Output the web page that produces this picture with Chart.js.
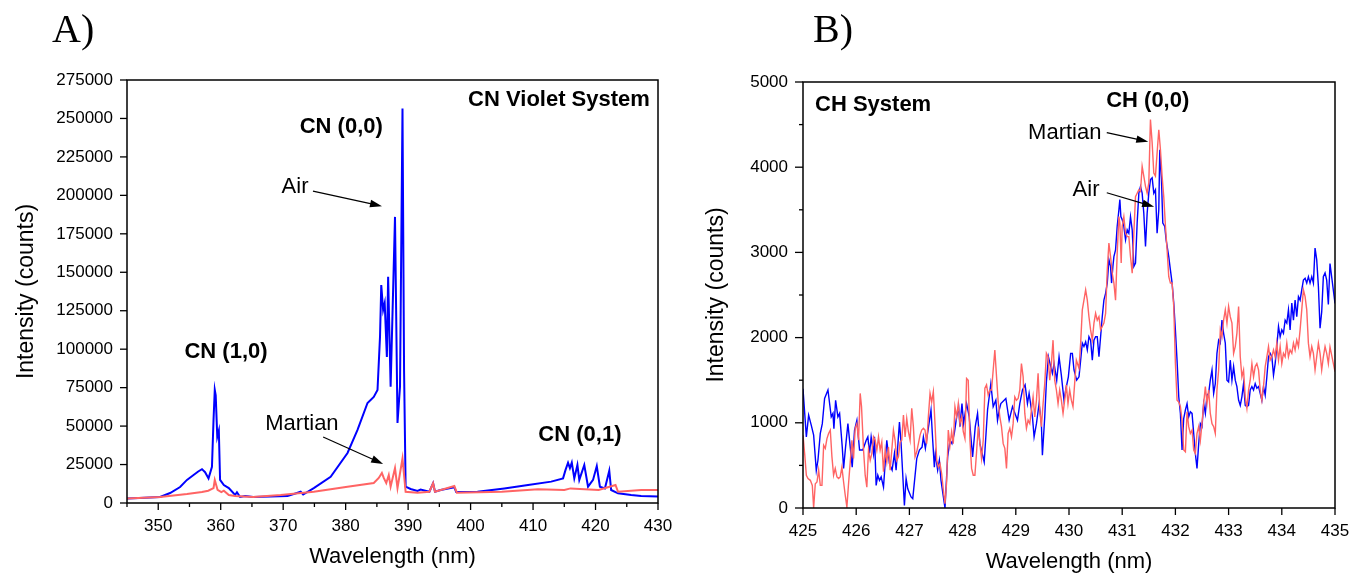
<!DOCTYPE html>
<html>
<head>
<meta charset="utf-8">
<script src="https://cdn.jsdelivr.net/npm/chart.js@4.4.1/dist/chart.umd.min.js"></script>
<style>
  html, body { margin: 0; padding: 0; background: #fff; }
  #wrap { position: relative; width: 1353px; height: 575px; overflow: hidden; }
  canvas { position: absolute; top: 0; }
</style>
</head>
<body>
<div id="wrap">
  <canvas id="chartA" width="680" height="575" style="left:0;width:680px;height:575px"></canvas>
  <canvas id="chartB" width="673" height="575" style="left:680px;width:673px;height:575px"></canvas>
</div>
<script>
// ---- A) CN violet system, 345-430 nm ----
const cnAirWl = [345, 347, 350.3, 351.9, 353.5, 354.6, 355.6, 356.4, 357.0, 357.5,
  358.05, 358.6, 358.85, 359.05, 359.2, 359.45, 359.7, 359.9, 360.5, 361.3,
  362.3, 362.6, 363.1, 363.9, 365.2, 370.7, 372.8, 373.2, 374.9, 377.6,
  380.3, 381.9, 383.5, 384.5, 385.1, 385.5, 385.7, 386.0, 386.25, 386.6,
  386.8, 387.2, 387.9, 388.3, 388.7, 389.1, 389.35, 389.6, 390.4, 391.5,
  392.0, 393.4, 394.0, 394.3, 395.2, 397.4, 397.7, 401.1, 405.4, 409.2,
  412.9, 414.8, 415.2, 415.6, 415.9, 416.2, 416.6, 417.1, 417.4, 418.2,
  418.8, 419.6, 420.2, 420.7, 421.5, 422.2, 422.5, 423.6, 425.7, 427.3, 430];
const cnAir = [3000, 3300, 3900, 6500, 10400, 15000, 18000, 20500, 22000, 20000,
  16000, 23500, 54000, 73500, 70000, 43000, 47000, 15000, 11700, 9700,
  5200, 7000, 3900, 4500, 3900, 4500, 7300, 5500, 9700, 17000,
  32500, 47500, 65000, 69000, 73500, 108000, 141700, 125500, 130000, 95000,
  147000, 75600, 186000, 52000, 75600, 256500, 86500, 10600, 9100, 7900,
  8800, 7300, 12800, 7300, 8450, 10200, 7100, 7300, 9500, 11700,
  13900, 16000, 21500, 26200, 22700, 26200, 16000, 24700, 15000, 24700,
  10600, 15000, 24000, 10600, 9500, 21000, 8450, 6300, 5200, 4600, 4200];

const cnMarsWl = [345, 350.3, 354.6, 357.0, 358.0, 358.85, 359.05, 359.5, 360.1, 360.5,
  361.3, 362.3, 365.2, 369.6, 374.9, 380.3, 384.5, 385.3, 385.8, 386.1,
  386.5, 386.9, 387.2, 387.9, 388.3, 389.1, 389.6, 391.5, 393.4, 394.0,
  394.3, 397.4, 397.8, 405.0, 410.8, 415.0, 416.0, 420.5, 423.2, 423.6, 427.3, 430];
const cnMars = [3000, 3900, 5800, 7100, 8000, 9700, 15000, 8500, 7100, 8000,
  5200, 4500, 3900, 5200, 7300, 10600, 13000, 16300, 19500, 16300,
  13000, 18200, 10600, 22700, 9700, 29000, 7300, 6700, 7300, 12800,
  7300, 11000, 6700, 7300, 8900, 8450, 9500, 8450, 11700, 7300, 8450, 8500];

const cnTicksY = [0, 25000, 50000, 75000, 100000, 125000, 150000, 175000, 200000, 225000, 250000, 275000];

// ---- B) CH system, 425-435 nm ----
const chAirWl = [
  425.000, 425.063, 425.106, 425.156, 425.200, 425.250, 425.281, 425.325, 425.363, 425.406,
  425.469, 425.531, 425.563, 425.581, 425.613, 425.656, 425.688, 425.738, 425.763, 425.800,
  425.844, 425.888, 425.925, 425.969, 426.013, 426.063, 426.125, 426.188, 426.219, 426.250,
  426.281, 426.325, 426.344, 426.375, 426.406, 426.438, 426.469, 426.513, 426.575, 426.625,
  426.675, 426.719, 426.750, 426.813, 426.844, 426.906, 426.938, 426.969, 427.031, 427.063,
  427.138, 427.188, 427.238, 427.263, 427.300, 427.406, 427.438, 427.469, 427.488, 427.531,
  427.563, 427.594, 427.669, 427.719, 427.763, 427.800, 427.844, 427.888, 427.925, 427.950,
  427.988, 428.019, 428.075, 428.125, 428.156, 428.188, 428.238, 428.281, 428.325, 428.406,
  428.469, 428.531, 428.575, 428.625, 428.656, 428.688, 428.719, 428.813, 428.875, 428.938,
  429.031, 429.075, 429.125, 429.175, 429.219, 429.250, 429.313, 429.344, 429.388, 429.438,
  429.481, 429.500, 429.544, 429.575, 429.613, 429.656, 429.688, 429.719, 429.769, 429.813,
  429.856, 429.906, 429.938, 429.988, 430.031, 430.063, 430.094, 430.144, 430.188, 430.219,
  430.250, 430.281, 430.313, 430.344, 430.375, 430.406, 430.438, 430.469, 430.500, 430.531,
  430.563, 430.594, 430.625, 430.656, 430.688, 430.719, 430.750, 430.781, 430.800, 430.825,
  430.844, 430.875, 430.906, 430.938, 430.956, 430.975, 431.000, 431.031, 431.063, 431.094,
  431.125, 431.156, 431.188, 431.219, 431.250, 431.281, 431.313, 431.344, 431.375, 431.406,
  431.438, 431.469, 431.500, 431.531, 431.563, 431.594, 431.625, 431.656, 431.688, 431.706,
  431.738, 431.763, 431.800, 431.825, 431.875, 431.906, 431.938, 431.969, 432.000, 432.031,
  432.063, 432.094, 432.125, 432.156, 432.188, 432.219, 432.250, 432.281, 432.313, 432.344,
  432.375, 432.406, 432.438, 432.469, 432.500, 432.531, 432.563, 432.594, 432.625, 432.656,
  432.688, 432.719, 432.750, 432.781, 432.813, 432.844, 432.875, 432.906, 432.938, 432.969,
  433.000, 433.031, 433.063, 433.094, 433.125, 433.156, 433.188, 433.219, 433.250, 433.281,
  433.313, 433.344, 433.375, 433.406, 433.438, 433.469, 433.500, 433.531, 433.563, 433.594,
  433.625, 433.656, 433.688, 433.719, 433.750, 433.781, 433.813, 433.844, 433.875, 433.906,
  433.938, 433.969, 434.000, 434.031, 434.063, 434.094, 434.125, 434.156, 434.188, 434.219,
  434.250, 434.281, 434.313, 434.344, 434.375, 434.406, 434.438, 434.469, 434.500, 434.531,
  434.563, 434.594, 434.625, 434.656, 434.688, 434.719, 434.750, 434.781, 434.813, 434.844,
  434.875, 434.906, 435.000];
const chAir = [
  1400, 835, 1090, 970, 855, 440, 560, 875, 990, 1285,
  1385, 1070, 1110, 930, 1265, 1070, 1110, 715, 465, 715,
  990, 715, 480, 915, 1030, 680, 680, 795, 835, 640,
  835, 640, 835, 265, 385, 325, 365, 245, 795, 520,
  445, 640, 445, 1010, 755, 30, 345, 225, 130, 110,
  580, 680, 715, 835, 700, 1150, 795, 480, 640, 445,
  560, 325, 0, 600, 795, 755, 875, 1070, 1190, 955,
  1225, 990, 1225, 1070, 835, 600, 955, 1110, 755, 540,
  1150, 1460, 1190, 1265, 1030, 1150, 1225, 1285, 1030, 1190,
  1030, 1225, 1385, 1445, 1225, 1345, 1070, 835, 990, 1225,
  990, 620, 1070, 1480, 1775, 1660, 1580, 1695, 1500, 1775,
  1560, 1265, 1385, 1540, 1815, 1815, 1620, 1500, 1540, 1735,
  1935, 1895, 1950, 1855, 2010, 1970, 1735, 1970, 2010, 2010,
  1775, 2010, 2245, 2440, 2520, 2640, 2915, 2835, 2640, 2835,
  2950, 3030, 3305, 3500, 3620, 3420, 3385, 3305, 3150, 3265,
  3225, 3420, 3265, 2835, 2875, 3345, 3695, 3775, 3695, 3460,
  3070, 3460, 3695, 3855, 3875, 3695, 3735, 3225, 3500, 4205,
  3855, 3345, 3305, 3150, 2950, 2795, 2640, 2405, 2090, 1735,
  1305, 1110, 680, 1050, 1150, 1225, 1070, 1130, 1110, 875,
  640, 465, 755, 990, 955, 1225, 1110, 1325, 1345, 1500,
  1620, 1345, 1460, 1815, 1970, 1935, 2205, 2050, 1935, 1500,
  1480, 1735, 1500, 1660, 1500, 1425, 1265, 1205, 1305, 1460,
  1205, 1190, 1205, 1385, 1425, 1385, 1460, 1405, 1425, 1345,
  1265, 1425, 1325, 1540, 1775, 1815, 1775, 1560, 1695, 1895,
  2130, 2010, 2090, 2050, 2205, 2170, 2325, 2090, 2405, 2205,
  2440, 2245, 2480, 2440, 2560, 2675, 2695, 2640, 2715, 2640,
  2715, 2640, 3050, 2915, 2600, 2110, 2300, 2715, 2760, 2675,
  2390, 2870, 2400];

const chMarsWl = [
  425.000, 425.031, 425.063, 425.094, 425.138, 425.175, 425.200, 425.231, 425.263, 425.294,
  425.325, 425.356, 425.388, 425.419, 425.450, 425.481, 425.513, 425.544, 425.575, 425.606,
  425.638, 425.669, 425.700, 425.731, 425.763, 425.794, 425.825, 425.856, 425.888, 425.919,
  425.950, 425.981, 426.013, 426.044, 426.075, 426.100, 426.138, 426.169, 426.200, 426.231,
  426.263, 426.294, 426.325, 426.356, 426.388, 426.419, 426.450, 426.481, 426.513, 426.544,
  426.575, 426.606, 426.638, 426.669, 426.700, 426.731, 426.763, 426.794, 426.825, 426.856,
  426.888, 426.919, 426.950, 426.981, 427.013, 427.044, 427.075, 427.106, 427.138, 427.169,
  427.200, 427.231, 427.263, 427.294, 427.325, 427.356, 427.388, 427.419, 427.450, 427.481,
  427.513, 427.544, 427.575, 427.606, 427.638, 427.669, 427.700, 427.731, 427.763, 427.794,
  427.825, 427.856, 427.888, 427.919, 427.950, 427.981, 428.013, 428.044, 428.075, 428.106,
  428.138, 428.169, 428.200, 428.231, 428.263, 428.294, 428.325, 428.356, 428.388, 428.419,
  428.450, 428.481, 428.513, 428.544, 428.575, 428.606, 428.638, 428.669, 428.700, 428.731,
  428.763, 428.794, 428.825, 428.856, 428.888, 428.919, 428.950, 428.981, 429.013, 429.044,
  429.075, 429.106, 429.138, 429.169, 429.200, 429.231, 429.263, 429.294, 429.325, 429.356,
  429.388, 429.419, 429.450, 429.481, 429.513, 429.544, 429.575, 429.606, 429.638, 429.669,
  429.700, 429.731, 429.763, 429.794, 429.825, 429.856, 429.888, 429.919, 429.950, 429.981,
  430.013, 430.044, 430.075, 430.106, 430.138, 430.188, 430.219, 430.250, 430.281, 430.313,
  430.344, 430.375, 430.406, 430.438, 430.469, 430.500, 430.531, 430.563, 430.594, 430.625,
  430.656, 430.688, 430.719, 430.750, 430.781, 430.813, 430.844, 430.875, 430.906, 430.938,
  430.956, 430.981, 431.000, 431.031, 431.063, 431.094, 431.125, 431.156, 431.188, 431.219,
  431.250, 431.281, 431.313, 431.344, 431.375, 431.406, 431.438, 431.469, 431.500, 431.531,
  431.563, 431.594, 431.625, 431.656, 431.688, 431.719, 431.750, 431.781, 431.813, 431.844,
  431.875, 431.906, 431.938, 431.969, 432.000, 432.031, 432.063, 432.094, 432.125, 432.156,
  432.188, 432.219, 432.250, 432.281, 432.313, 432.344, 432.375, 432.406, 432.438, 432.469,
  432.500, 432.531, 432.563, 432.594, 432.625, 432.656, 432.688, 432.719, 432.750, 432.781,
  432.813, 432.844, 432.875, 432.906, 432.938, 432.969, 433.000, 433.031, 433.063, 433.094,
  433.125, 433.156, 433.188, 433.219, 433.250, 433.281, 433.313, 433.344, 433.375, 433.406,
  433.438, 433.469, 433.500, 433.531, 433.563, 433.594, 433.625, 433.656, 433.688, 433.719,
  433.750, 433.781, 433.813, 433.844, 433.875, 433.906, 433.938, 433.969, 434.000, 434.031,
  434.063, 434.094, 434.125, 434.156, 434.188, 434.219, 434.250, 434.281, 434.313, 434.344,
  434.375, 434.406, 434.438, 434.469, 434.500, 434.531, 434.563, 434.594, 434.625, 434.656,
  434.688, 434.719, 434.750, 434.781, 434.813, 434.844, 434.875, 434.906, 435.000];
const chMars = [
  855, 640, 385, 345, 325, 265, 0, 285, 305, 445,
  265, 265, 735, 700, 815, 875, 915, 600, 385, 465,
  365, 345, 365, 480, 305, 150, 10, 285, 540, 795,
  580, 935, 990, 795, 1345, 1190, 680, 385, 245, 680,
  560, 640, 835, 795, 680, 835, 680, 775, 425, 680,
  540, 715, 445, 680, 915, 795, 560, 600, 775, 795,
  1090, 835, 1050, 895, 795, 1170, 955, 600, 660, 755,
  855, 915, 935, 915, 755, 1070, 1345, 1245, 1365, 990,
  560, 480, 520, 405, 210, 50, 305, 915, 735, 895,
  755, 1190, 1070, 1225, 990, 1070, 895, 815, 1520, 1500,
  795, 465, 385, 385, 660, 955, 755, 580, 795, 1405,
  1445, 1325, 1385, 1385, 1620, 1855, 1540, 1245, 1070, 955,
  755, 700, 465, 875, 935, 835, 990, 1305, 1265, 1285,
  1385, 1695, 1540, 1110, 935, 1030, 990, 1150, 1305, 1070,
  1265, 1580, 1150, 955, 1225, 1460, 1815, 1775, 1500, 1695,
  1970, 1500, 1385, 1225, 1385, 1265, 1110, 1265, 1445, 1225,
  1385, 1265, 1190, 1460, 1735, 1640, 1935, 2325, 2440, 2560,
  2440, 2245, 2090, 1970, 2170, 2285, 2205, 2245, 2090, 2130,
  2170, 2285, 2795, 3110, 2950, 2755, 2640, 2440, 2990, 3420,
  3345, 2875, 3305, 3420, 3225, 3185, 3185, 2950, 2755, 3225,
  3655, 3695, 3735, 3715, 4010, 3895, 3775, 3695, 3815, 4560,
  4285, 3930, 3895, 4165, 4440, 4205, 3895, 3655, 3305, 3030,
  2715, 2640, 2640, 2365, 1695, 1265, 1245, 1190, 1030, 680,
  660, 1130, 955, 875, 915, 680, 640, 875, 955, 795,
  990, 1225, 1425, 1225, 1385, 1110, 990, 955, 875, 1385,
  1620, 2090, 2010, 2205, 2325, 2170, 2365, 2245, 2170, 1815,
  1895, 2050, 2365, 1775, 1540, 1620, 1305, 1170, 1385, 1500,
  1695, 1540, 1660, 1695, 1620, 1385, 1265, 1425, 1660, 1775,
  1895, 1735, 1775, 1855, 1775, 1935, 1735, 1895, 1695, 1815,
  1775, 1935, 1775, 1855, 1815, 1935, 1855, 1970, 1895, 2090,
  2325, 2560, 2480, 2325, 1935, 1775, 1895, 1815, 1620, 1775,
  1935, 1815, 1620, 1775, 1895, 1815, 1695, 1890, 1600];

const chTicksX = [425, 426, 427, 428, 429, 430, 431, 432, 433, 434, 435];

const FONT = '"Liberation Sans", Arial, Helvetica, sans-serif';
const BLUE = '#0000ff';
const RED = '#ff6464';

function pts(xs, ys) {
  return xs.map((x, i) => ({ x: x, y: ys[i] }));
}

function drawArrow(ctx, x1, y1, x2, y2) {
  const ang = Math.atan2(y2 - y1, x2 - x1);
  const L = 12, W = 3.8;
  ctx.beginPath();
  ctx.moveTo(x1, y1);
  ctx.lineTo(x2 - L * 0.7 * Math.cos(ang), y2 - L * 0.7 * Math.sin(ang));
  ctx.stroke();
  ctx.beginPath();
  ctx.moveTo(x2, y2);
  ctx.lineTo(x2 - L * Math.cos(ang) + W * Math.sin(ang), y2 - L * Math.sin(ang) - W * Math.cos(ang));
  ctx.lineTo(x2 - L * Math.cos(ang) - W * Math.sin(ang), y2 - L * Math.sin(ang) + W * Math.cos(ang));
  ctx.closePath();
  ctx.fill();
}

// frame, tick marks, panel letter and the annotations
function makeDecor(cfg) {
  return {
    id: 'decor' + cfg.letter,
    afterDraw(chart) {
      const ctx = chart.ctx;
      const a = chart.chartArea;
      const sx = chart.scales.x, sy = chart.scales.y;
      ctx.save();
      ctx.strokeStyle = '#000';
      ctx.fillStyle = '#000';
      ctx.lineWidth = 1.5;
      ctx.strokeRect(a.left, a.top, a.right - a.left, a.bottom - a.top);

      ctx.lineWidth = 1.3;
      sx.ticks.forEach(t => {
        const px = sx.getPixelForValue(t.value);
        const len = (t.value % cfg.majorX === 0) ? 7 : 4;
        ctx.beginPath(); ctx.moveTo(px, a.bottom); ctx.lineTo(px, a.bottom + len); ctx.stroke();
      });
      sy.ticks.forEach(t => {
        const py = sy.getPixelForValue(t.value);
        const len = (t.value % cfg.majorY === 0) ? cfg.tickY : 4;
        ctx.beginPath(); ctx.moveTo(a.left, py); ctx.lineTo(a.left - len, py); ctx.stroke();
      });

      ctx.font = '40px "Liberation Serif", "Times New Roman", serif';
      ctx.textAlign = 'left';
      ctx.textBaseline = 'alphabetic';
      ctx.fillText(cfg.letter + ')', cfg.letterX, 42);

      ctx.textBaseline = 'middle';
      cfg.notes.forEach(n => {
        ctx.font = (n.bold ? 'bold ' : '') + n.size + 'px ' + FONT;
        ctx.textAlign = n.align || 'center';
        ctx.fillText(n.text, sx.getPixelForValue(n.x), sy.getPixelForValue(n.y));
      });
      ctx.lineWidth = 1.2;
      cfg.arrows.forEach(r => {
        drawArrow(ctx, sx.getPixelForValue(r.x1), sy.getPixelForValue(r.y1),
          sx.getPixelForValue(r.x2), sy.getPixelForValue(r.y2));
      });
      ctx.restore();
    }
  };
}

function makeChart(id, o) {
  return new Chart(document.getElementById(id), {
    type: 'line',
    data: {
      datasets: [
        { label: 'Martian', data: pts(o.marsWl, o.mars), borderColor: RED, borderWidth: o.lw,
          pointRadius: 0, tension: 0, fill: false, order: 0 },
        { label: 'Air', data: pts(o.airWl, o.air), borderColor: BLUE, borderWidth: o.lw,
          pointRadius: 0, tension: 0, fill: false, order: 1 }
      ]
    },
    options: {
      responsive: false,
      animation: false,
      events: [],
      layout: { padding: o.pad },
      plugins: { legend: { display: false }, tooltip: { enabled: false } },
      scales: {
        x: {
          type: 'linear', min: o.xMin, max: o.xMax,
          afterFit: s => { s.height = o.xAxisH; s.paddingLeft = 0; s.paddingRight = 0; },
          afterBuildTicks: s => { s.ticks = o.xTickVals.map(v => ({ value: v })); },
          grid: { display: false }, border: { display: false },
          ticks: {
            color: '#000', font: { family: FONT, size: 17 }, padding: o.xLabelPad,
            autoSkip: false, maxRotation: 0,
            callback: v => (v % o.majorX === 0 ? String(v) : '')
          },
          title: { display: true, text: 'Wavelength (nm)', color: '#000',
            font: { family: FONT, size: 22 }, padding: { top: 0, bottom: o.xTitlePad } }
        },
        y: {
          type: 'linear', min: o.yMin, max: o.yMax,
          afterFit: s => { s.width = o.yAxisW; s.paddingTop = 0; s.paddingBottom = 0; },
          afterBuildTicks: s => { s.ticks = o.yTickVals.map(v => ({ value: v })); },
          grid: { display: false }, border: { display: false },
          ticks: {
            color: '#000', font: { family: FONT, size: 17 }, padding: o.yLabelPad,
            autoSkip: false,
            callback: v => (v % o.majorY === 0 ? String(v) : '')
          },
          title: { display: true, text: 'Intensity (counts)', color: '#000',
            font: { family: FONT, size: 23 }, padding: { top: o.yTitlePad, bottom: 0 } }
        }
      }
    },
    plugins: [makeDecor(o.decor)]
  });
}

// minor tick positions come from the label steps
const cnTicksX = [];
for (let v = 345; v <= 430; v += 5) cnTicksX.push(v);
const chTicksY = [];
for (let v = 0; v <= 5000; v += 500) chTicksY.push(v);

makeChart('chartA', {
  airWl: cnAirWl, air: cnAir, marsWl: cnMarsWl, mars: cnMars, lw: 2,
  xMin: 345, xMax: 430, yMin: 0, yMax: 275000,
  xTickVals: cnTicksX, yTickVals: cnTicksY, majorX: 10, majorY: 25000,
  pad: { left: 0, right: 22, top: 80, bottom: 0 },
  xAxisH: 72, yAxisW: 127, xLabelPad: 5, yLabelPad: 6, xTitlePad: 5, yTitlePad: 13,
  decor: {
    letter: 'A', letterX: 52, majorX: 10, majorY: 25000, tickY: 7,
    notes: [
      { text: 'CN Violet System', x: 428.7, y: 262000, bold: true, size: 22, align: 'right' },
      { text: 'CN (0,0)', x: 379.3, y: 244400, bold: true, size: 22 },
      { text: 'Air', x: 371.9, y: 205400, size: 22 },
      { text: 'CN (1,0)', x: 360.85, y: 98150, bold: true, size: 22 },
      { text: 'Martian', x: 373.0, y: 51350, size: 22 },
      { text: 'CN (0,1)', x: 417.5, y: 44200, bold: true, size: 22 }
    ],
    arrows: [
      { x1: 374.77, y1: 202800, x2: 385.82, y2: 193000 },
      { x1: 376.4, y1: 42900, x2: 386.0, y2: 25350 }
    ]
  }
});

makeChart('chartB', {
  airWl: chAirWl, air: chAir, marsWl: chMarsWl, mars: chMars, lw: 1.4,
  xMin: 425, xMax: 435, yMin: 0, yMax: 5000,
  xTickVals: chTicksX, yTickVals: chTicksY, majorX: 1, majorY: 1000,
  pad: { left: 0, right: 18, top: 82, bottom: 0 },
  xAxisH: 67, yAxisW: 123, xLabelPad: 5, yLabelPad: 7, xTitlePad: 0, yTitlePad: 23,
  decor: {
    letter: 'B', letterX: 133, majorX: 1, majorY: 1000, tickY: 8,
    notes: [
      { text: 'CH System', x: 425.226, y: 4730, bold: true, size: 22, align: 'left' },
      { text: 'CH (0,0)', x: 431.48, y: 4780, bold: true, size: 22 },
      { text: 'Martian', x: 429.92, y: 4400, size: 22 },
      { text: 'Air', x: 430.32, y: 3732, size: 22 }
    ],
    arrows: [
      { x1: 430.71, y1: 4405, x2: 431.49, y2: 4300 },
      { x1: 430.71, y1: 3700, x2: 431.60, y2: 3536 }
    ]
  }
});
</script>
</body>
</html>
